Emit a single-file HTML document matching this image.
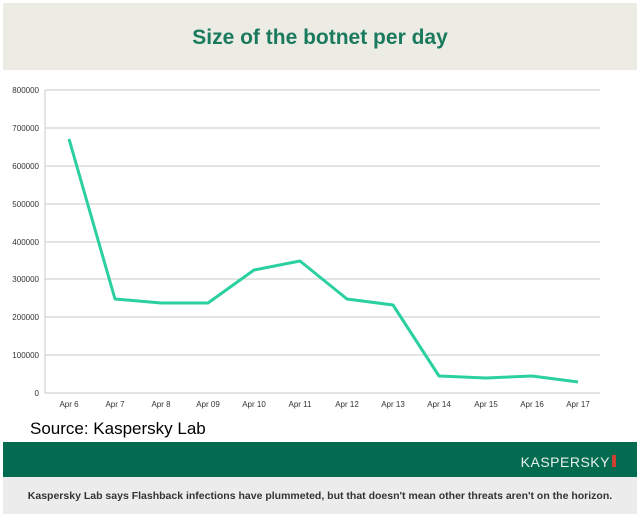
<!DOCTYPE html>
<html><head><style>
body{margin:0;width:640px;height:519px;background:#fff;overflow:hidden;font-family:"Liberation Sans",sans-serif;}
</style></head><body>
<svg width="640" height="519" xmlns="http://www.w3.org/2000/svg" font-family="Liberation Sans, sans-serif">
<rect x="3" y="3" width="634" height="67" fill="#ecebe4"/>
<text x="320" y="44" text-anchor="middle" font-size="21" font-weight="bold" fill="#1a7a5e">Size of the botnet per day</text>
<g stroke="#c8c8c8" stroke-width="1">
<line x1="45" y1="90" x2="600" y2="90"/><line x1="45" y1="128" x2="600" y2="128"/>
<line x1="45" y1="166" x2="600" y2="166"/><line x1="45" y1="204" x2="600" y2="204"/>
<line x1="45" y1="242" x2="600" y2="242"/><line x1="45" y1="279" x2="600" y2="279"/>
<line x1="45" y1="317" x2="600" y2="317"/><line x1="45" y1="355" x2="600" y2="355"/>
<line x1="45" y1="393" x2="600" y2="393"/><line x1="45" y1="90" x2="45" y2="393"/>
</g>
<g font-size="8" fill="#333" text-anchor="end">
<text x="39" y="93">800000</text><text x="39" y="131">700000</text><text x="39" y="169">600000</text>
<text x="39" y="207">500000</text><text x="39" y="245">400000</text><text x="39" y="282">300000</text>
<text x="39" y="320">200000</text><text x="39" y="358">100000</text><text x="39" y="396">0</text>
</g>
<g font-size="8" fill="#333" text-anchor="middle">
<text x="69" y="407">Apr 6</text><text x="115" y="407">Apr 7</text><text x="161" y="407">Apr 8</text>
<text x="208" y="407">Apr 09</text><text x="254" y="407">Apr 10</text><text x="300" y="407">Apr 11</text>
<text x="347" y="407">Apr 12</text><text x="393" y="407">Apr 13</text><text x="439" y="407">Apr 14</text>
<text x="486" y="407">Apr 15</text><text x="532" y="407">Apr 16</text><text x="578" y="407">Apr 17</text>
</g>
<polyline fill="none" stroke="#2bd0a0" stroke-width="3" stroke-linejoin="round" points="69,139 115,299 161,303 208,303 254,270 300,261 347,299 393,305 439,376 486,378 532,376 578,382"/>
<text x="30" y="434" font-size="17" fill="#000">Source: Kaspersky Lab</text>
<rect x="3" y="442" width="634" height="35" fill="#036b50"/>
<text x="610" y="467" text-anchor="end" font-size="14" fill="#e8f0ec" letter-spacing="0.5">KASPERSKY</text>
<rect x="612" y="455" width="4" height="12" fill="#d04030"/>
<rect x="3" y="477" width="634" height="37" fill="#ececec"/>
<text x="320" y="499" text-anchor="middle" font-size="10.5" font-weight="bold" fill="#333">Kaspersky Lab says Flashback infections have plummeted, but that doesn't mean other threats aren't on the horizon.</text>
</svg>
</body></html>
